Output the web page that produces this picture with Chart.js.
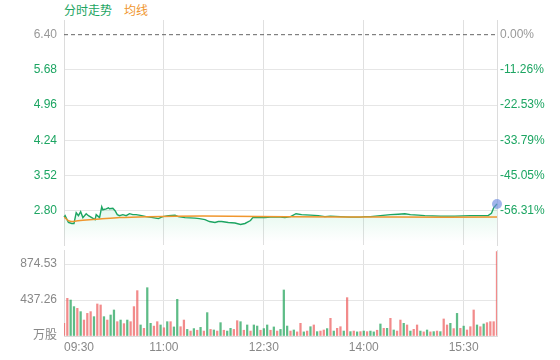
<!DOCTYPE html>
<html>
<head>
<meta charset="utf-8">
<script src="https://cdn.jsdelivr.net/npm/chart.js@4.4.1/dist/chart.umd.min.js"></script>
<style>
  body { margin: 0; background: #fff; }
  #wrap { position: relative; width: 560px; height: 360px; }
  #legend { position: absolute; left: 64px; top: 1px; font: 12px "Noto Sans CJK SC", sans-serif; }
  #legend .price { color: #1ca562; }
  #legend .avg { color: #f0962e; margin-left: 12px; }
  canvas { position: absolute; left: 0; }
  #pricechart { top: 0; }
  #volchart { top: 250px; }
</style>
</head>
<body>
<div id="wrap">
  <div id="legend"><span class="price">分时走势</span><span class="avg">均线</span></div>
  <canvas id="pricechart" width="560" height="250"></canvas>
  <canvas id="volchart" width="560" height="110"></canvas>
</div>
<script>
const preClose = 6.40;

// minutes since 09:30
const priceTimes = [0, 1, 4, 7, 9, 11, 13, 15, 17, 20, 22, 25, 28, 29, 32, 34, 35, 38, 40, 41, 44, 46, 48, 50, 53, 56, 59, 62, 65, 70, 74, 80, 85, 89, 94, 100, 103, 109, 118, 122, 127, 131, 136, 139, 142, 148, 154, 159, 163, 168, 170, 177, 181, 186, 195, 199, 204, 209, 214, 222, 229, 235, 240, 249, 258, 267, 271, 276, 285, 294, 301, 307, 312, 319, 325, 339, 352, 366, 379, 382, 385, 387, 390];
const prices = [2.67, 2.70, 2.56, 2.54, 2.54, 2.76, 2.70, 2.78, 2.66, 2.74, 2.70, 2.66, 2.62, 2.72, 2.66, 2.88, 2.82, 2.84, 2.86, 2.84, 2.85, 2.80, 2.72, 2.70, 2.72, 2.70, 2.74, 2.72, 2.72, 2.70, 2.68, 2.66, 2.64, 2.68, 2.70, 2.71, 2.68, 2.66, 2.65, 2.64, 2.62, 2.58, 2.56, 2.58, 2.58, 2.56, 2.55, 2.52, 2.54, 2.60, 2.66, 2.66, 2.66, 2.67, 2.67, 2.66, 2.68, 2.74, 2.72, 2.71, 2.70, 2.68, 2.69, 2.68, 2.67, 2.67, 2.68, 2.68, 2.70, 2.72, 2.73, 2.74, 2.72, 2.71, 2.70, 2.69, 2.69, 2.70, 2.70, 2.70, 2.75, 2.86, 2.94];

const avgTimes = [0, 4, 7, 11, 20, 32, 50, 75, 100, 150, 200, 300, 390];
const avgPrices = [2.67, 2.60, 2.58, 2.59, 2.61, 2.63, 2.66, 2.68, 2.69, 2.69, 2.68, 2.67, 2.67];

const priceTicks = [2.80, 3.52, 4.24, 4.96, 5.68, 6.40];
const pctLabels = ['-56.31%', '-45.05%', '-33.79%', '-22.53%', '-11.26%', '0.00%'];

const timeTicks = [0, 90, 180, 270, 360, 390];
const timeLabels = ['09:30', '11:00', '12:30', '14:00', '15:30', ''];

// volume, one bar per 3 minutes (万股)
const volume = [154, 458, 437, 357, 336, 296, 194, 275, 296, 235, 389, 377, 235, 194, 255, 316, 174, 194, 150, 194,
  174, 357, 551, 134, 93, 587, 154, 120, 174, 134, 100, 174, 174, 110, 446, 113, 194, 80, 60, 90,
  70, 105, 60, 284, 80, 73, 60, 162, 70, 60, 93, 80, 186, 174, 70, 134, 60, 134, 121, 70,
  90, 134, 70, 110, 60, 80, 559, 121, 60, 73, 50, 154, 50, 60, 113, 134, 53, 60, 73, 90,
  215, 60, 93, 113, 60, 466, 53, 60, 50, 53, 60, 53, 60, 50, 70, 146, 93, 93, 215, 73,
  60, 194, 154, 134, 60, 81, 134, 60, 50, 73, 50, 53, 60, 53, 207, 134, 154, 90, 275, 93,
  120, 73, 113, 316, 134, 113, 146, 162, 174, 174, 1025];
// 1 = up (red), 0 = down (green)
const volUp = [1, 1, 0, 0, 1, 0, 1, 1, 1, 0, 1, 1, 0, 1, 0, 0, 1, 0, 1, 0,
  1, 1, 1, 0, 1, 0, 0, 1, 1, 0, 1, 0, 1, 0, 0, 1, 1, 0, 1, 0,
  1, 0, 1, 0, 1, 0, 1, 0, 1, 0, 0, 1, 1, 0, 1, 0, 1, 0, 0, 1,
  0, 0, 1, 0, 1, 0, 0, 0, 1, 0, 1, 1, 0, 1, 0, 1, 0, 1, 1, 0,
  1, 0, 1, 1, 0, 1, 0, 1, 0, 1, 0, 1, 0, 0, 1, 0, 1, 0, 1, 0,
  1, 1, 0, 1, 0, 1, 1, 0, 1, 0, 1, 0, 1, 0, 1, 1, 0, 1, 0, 1,
  0, 1, 1, 1, 0, 1, 0, 1, 1, 1, 1];

const volTicks = [0, 437.26, 874.53];
const volLabels = ['万股', '437.26', '874.53'];

const green = '#1ca562';
const orange = '#f0962e';
const gridColor = '#e6e6e6';
const numFont = { family: '"Liberation Sans", "Noto Sans CJK SC", sans-serif', size: 12 };

function pairs(xs, ys) {
    return xs.map((x, i) => ({ x: x, y: ys[i] }));
}

function setTicks(values) {
    return function (scale) {
        scale.ticks = values.map(v => ({ value: v }));
    };
}

// fixed axis boxes, no extra label padding
function fixWidth(w) {
    return function (s) {
        s.width = w;
        s.paddingTop = 0;
        s.paddingBottom = 0;
    };
}
function fixHeight(h) {
    return function (s) {
        s.height = h;
        s.paddingLeft = 0;
        s.paddingRight = 0;
    };
}

function priceFill(ctx) {
    const area = ctx.chart.chartArea;
    if (!area) return 'transparent';
    const g = ctx.chart.ctx.createLinearGradient(0, area.bottom - 36, 0, area.bottom - 4);
    g.addColorStop(0, 'rgba(40,200,120,0.13)');
    g.addColorStop(1, 'rgba(40,200,120,0)');
    return g;
}

new Chart(document.getElementById('pricechart'), {
    type: 'line',
    data: {
        datasets: [{
            data: pairs(priceTimes, prices),
            borderColor: green,
            borderWidth: 1.4,
            backgroundColor: priceFill,
            fill: 'start',
            tension: 0,
            clip: false,
            pointRadius: ctx => ctx.dataIndex === prices.length - 1 ? 5 : 0,
            pointBackgroundColor: 'rgba(110,140,225,0.65)',
            pointBorderWidth: 0,
            order: 1
        }, {
            data: pairs(avgTimes, avgPrices),
            borderColor: orange,
            borderWidth: 1.5,
            pointRadius: 0,
            tension: 0.3,
            order: 0
        }, {
            data: pairs([0, 390], [preClose, preClose]),
            borderColor: '#666',
            borderWidth: 1,
            borderDash: [4, 3],
            pointRadius: 0,
            order: 2
        }]
    },
    options: {
        responsive: false,
        animation: false,
        layout: { padding: { top: 20, left: 0, right: 0, bottom: 0 } },
        plugins: { legend: { display: false }, tooltip: { enabled: false } },
        scales: {
            x: {
                type: 'linear', min: 0, max: 390,
                afterBuildTicks: setTicks(timeTicks),
                afterFit: fixHeight(0),
                ticks: { display: false },
                grid: { color: '#e0e0e0', drawTicks: false },
                border: { display: false }
            },
            y: {
                position: 'left', min: 2.10, max: 6.70,
                afterBuildTicks: setTicks(priceTicks),
                afterFit: fixWidth(64),
                ticks: {
                    padding: 7, font: numFont,
                    color: ctx => ctx.tick.value === preClose ? '#999' : green,
                    callback: (v, i) => priceTicks[i].toFixed(2)
                },
                grid: { drawTicks: false, color: ctx => ctx.tick && ctx.tick.value === preClose ? 'rgba(0,0,0,0)' : gridColor },
                border: { color: '#dcdcdc' }
            },
            y2: {
                position: 'right', min: 2.10, max: 6.70,
                afterBuildTicks: setTicks(priceTicks),
                afterFit: fixWidth(63),
                ticks: {
                    padding: 3, font: numFont,
                    color: ctx => ctx.tick.value === preClose ? '#999' : green,
                    callback: (v, i) => pctLabels[i]
                },
                grid: { drawOnChartArea: false, drawTicks: false },
                border: { color: '#dcdcdc' }
            }
        }
    }
});

new Chart(document.getElementById('volchart'), {
    type: 'bar',
    data: {
        datasets: [{
            data: volume.map((v, i) => ({ x: i * 3, y: v })),
            backgroundColor: ctx => volUp[ctx.dataIndex] ? 'rgba(238,100,100,0.75)' : 'rgba(40,165,95,0.75)',
            barThickness: 1.6
        }]
    },
    options: {
        responsive: false,
        animation: false,
        layout: { padding: { top: 0, left: 0, right: 63, bottom: 0 } },
        plugins: { legend: { display: false }, tooltip: { enabled: false } },
        scales: {
            x: {
                type: 'linear', min: 0, max: 390, offset: false,
                afterBuildTicks: setTicks(timeTicks),
                afterFit: fixHeight(24),
                ticks: {
                    padding: 4, font: numFont, color: '#888', align: 'inner', maxRotation: 0,
                    callback: (v, i) => timeLabels[i]
                },
                grid: { color: '#e0e0e0', drawTicks: false, offset: false },
                border: { color: '#dcdcdc' }
            },
            y: {
                position: 'left', min: 0, max: 1045,
                afterBuildTicks: setTicks(volTicks),
                afterFit: fixWidth(64),
                ticks: {
                    padding: 7, color: '#888', font: numFont,
                    callback: (v, i) => volLabels[i]
                },
                grid: { drawTicks: false, color: gridColor },
                border: { color: '#dcdcdc' }
            }
        }
    }
});
</script>
</body>
</html>
